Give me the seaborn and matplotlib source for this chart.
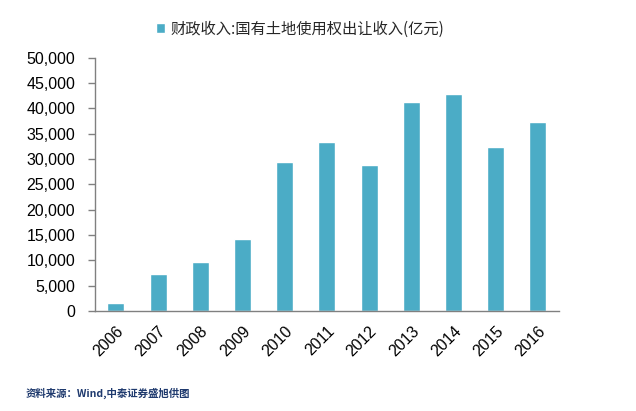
import numpy as np
import pandas as pd
import seaborn as sns
import matplotlib.pyplot as plt
from matplotlib.ticker import FuncFormatter, MultipleLocator

# data
years = ["2006", "2007", "2008", "2009", "2010", "2011",
         "2012", "2013", "2014", "2015", "2016"]
revenue = [1640, 7370, 9680, 14200, 29400, 33400,
           28900, 41300, 42900, 32400, 37350]
series_name = "财政收入:国有土地使用权出让收入(亿元)"
source_text = "资料来源：Wind,中泰证券盛旭供图"

df = pd.DataFrame({"year": years, "value": revenue})

sns.set_theme(style="white")
plt.rcParams['font.family'] = ['Liberation Sans', 'Noto Sans CJK SC', 'DejaVu Sans']

fig = plt.figure(figsize=(6.36, 4.11), dpi=100)
ax = fig.add_axes([0.149, 0.243, 0.73, 0.617])

bar_color = "#4BACC6"
sns.barplot(data=df, x="year", y="value", color=bar_color, width=0.4,
            saturation=1, label=series_name, ax=ax)

ax.set_ylim(0, 50000)
ax.set_xlim(-0.5, len(years) - 0.5)
ax.yaxis.set_major_locator(MultipleLocator(5000))
ax.yaxis.set_major_formatter(FuncFormatter(lambda v, p: f"{int(v):,}"))
ax.set_xlabel("")
ax.set_ylabel("")

for s in ["top", "right"]:
    ax.spines[s].set_visible(False)
for s in ["left", "bottom"]:
    ax.spines[s].set_color("#808080")
    ax.spines[s].set_linewidth(1)

# category boundary ticks on the x axis, like Excel
ax.set_xticks(np.arange(len(years)))
ax.set_xticks(np.arange(len(years) + 1) - 0.5, minor=True)
ax.tick_params(axis="x", which="major", length=0, labelsize=11.5, colors="black", pad=9)
ax.tick_params(axis="x", which="minor", length=5, color="#808080", width=1, direction="out")
ax.tick_params(axis="y", length=5, color="#808080", width=1, direction="out",
               labelsize=11.5, colors="black", left=True, pad=9)
plt.setp(ax.get_xticklabels(), rotation=45, ha="right", rotation_mode="anchor")

handles, labels = ax.get_legend_handles_labels()
ax.legend(handles, labels, loc="center", bbox_to_anchor=(0.472, 0.929),
          bbox_transform=fig.transFigure, frameon=False,
          handlelength=0.6, handleheight=0.6, handletextpad=0.4,
          prop={"family": ["Noto Sans CJK SC"], "size": 11})

fig.text(0.04, 0.035, source_text, fontsize=7.5, color="#1F3A6E", fontweight="bold",
         family=["Noto Sans CJK SC", "DejaVu Sans"])

fig.savefig("out.png", dpi=100)
